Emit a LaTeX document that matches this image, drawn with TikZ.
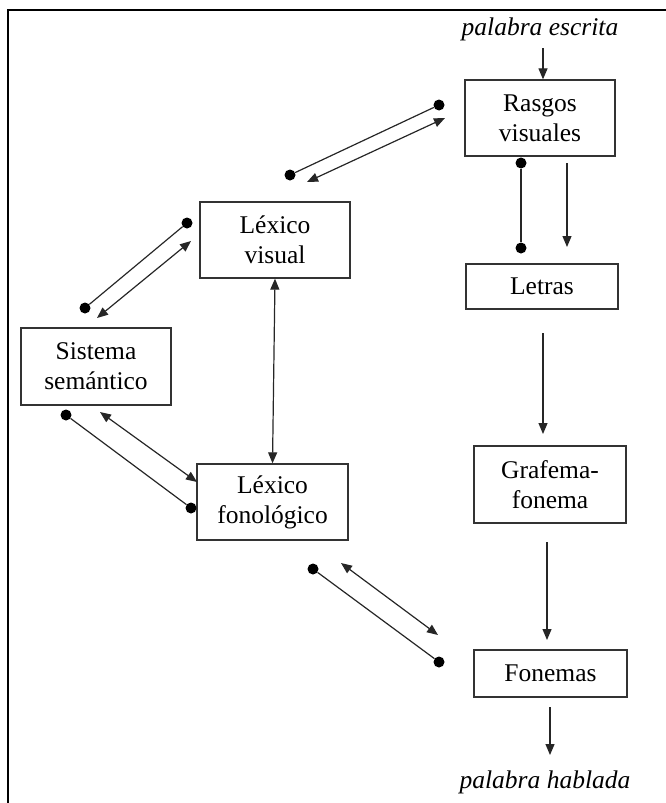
\documentclass[tikz,border=0pt]{standalone}
\usepackage{fontspec}
\setmainfont{Liberation Serif}
\usetikzlibrary{arrows.meta}
\begin{document}
\begin{tikzpicture}[x=1pt,y=-1pt,
  box/.style={draw=black!80,line width=1.3pt,align=center,inner sep=0pt,
    font=\fontsize{25.5}{30}\selectfont},
  lab/.style={font=\fontsize{25.5}{30}\selectfont\itshape,inner sep=0pt,anchor=base},
  conn/.style={draw=black!85,line width=1.2pt},
  arr/.style={conn,-{Triangle[length=11pt,width=9pt]}},
  darr/.style={conn,{Triangle[length=11pt,width=9pt]}-{Triangle[length=11pt,width=9pt]}},
  dot/.style={circle,fill=black,inner sep=0pt,minimum size=11pt}]
\useasboundingbox (0,0) rectangle (666,803);
\draw[line width=1.6pt] (8,803) -- (8,10) -- (666,10);

% boxes
\node[box,minimum width=150pt,minimum height=76pt] (rv) at (540,118) {Rasgos\\visuales};
\node[box,minimum width=150pt,minimum height=76pt] (lv) at (275,240) {Léxico\\visual};
\node[box,minimum width=150pt,minimum height=77pt] (ss) at (96,366.5) {Sistema\\semántico};
\node[box,minimum width=151pt,minimum height=76pt] (lf) at (272.5,502) {Léxico\\fonológico};
\node[box,minimum width=152pt,minimum height=45pt] (le) at (542,286.5) {Letras};
\node[box,minimum width=152pt,minimum height=77pt] (gf) at (550,484.5) {Grafema-\\fonema};
\node[box,minimum width=153pt,minimum height=47pt] (fo) at (550.5,673.5) {Fonemas};

\node[lab] (pe) at (540,35) {palabra escrita};
\node[lab] (ph) at (545,788) {palabra hablada};

% vertical pathway
\coordinate (a1) at (543,48);
\draw[arr] (a1) -- (rv.north -| a1);
\node[dot] (d1) at (521,163) {};
\node[dot] (d2) at (521,248) {};
\draw[conn] (d1) -- (d2);
\coordinate (a2s) at (567,163);
\coordinate (a2e) at (567,247);
\draw[arr] (a2s) -- (a2e);
\coordinate (a3s) at (543,333);
\coordinate (a3e) at (543,434);
\draw[arr] (a3s) -- (a3e);
\coordinate (a4s) at (547,542);
\coordinate (a4e) at (547,640);
\draw[arr] (a4s) -- (a4e);
\coordinate (a5s) at (550,707);
\coordinate (a5e) at (550,755);
\draw[arr] (a5s) -- (a5e);

% Rasgos <-> Lexico visual
\node[dot] (d3) at (439,105) {};
\node[dot] (d4) at (290,175) {};
\draw[conn] (d3) -- (d4);
\coordinate (b1s) at (445,118);
\coordinate (b1e) at (307,182);
\draw[darr] (b1s) -- (b1e);

% Lexico visual <-> Sistema
\node[dot] (d5) at (187,223) {};
\node[dot] (d6) at (85,308) {};
\draw[conn] (d5) -- (d6);
\coordinate (b2s) at (191,241);
\coordinate (b2e) at (97,318);
\draw[darr] (b2s) -- (b2e);

% Lexico visual <-> Lexico fonologico
\draw[darr] (lv.south) -- (lf.north);

% Sistema <-> Lexico fonologico
\node[dot] (d7) at (66,415) {};
\node[dot] (d8) at (191,508) {};
\draw[conn] (d7) -- (d8);
\coordinate (b3s) at (100,412);
\coordinate (b3e) at (197,482);
\draw[darr] (b3s) -- (b3e);

% Lexico fonologico <-> Fonemas
\node[dot] (d9) at (313,569) {};
\node[dot] (d10) at (439,662) {};
\draw[conn] (d9) -- (d10);
\coordinate (b4s) at (341,563);
\coordinate (b4e) at (438,635);
\draw[darr] (b4s) -- (b4e);
\end{tikzpicture}
\end{document}
